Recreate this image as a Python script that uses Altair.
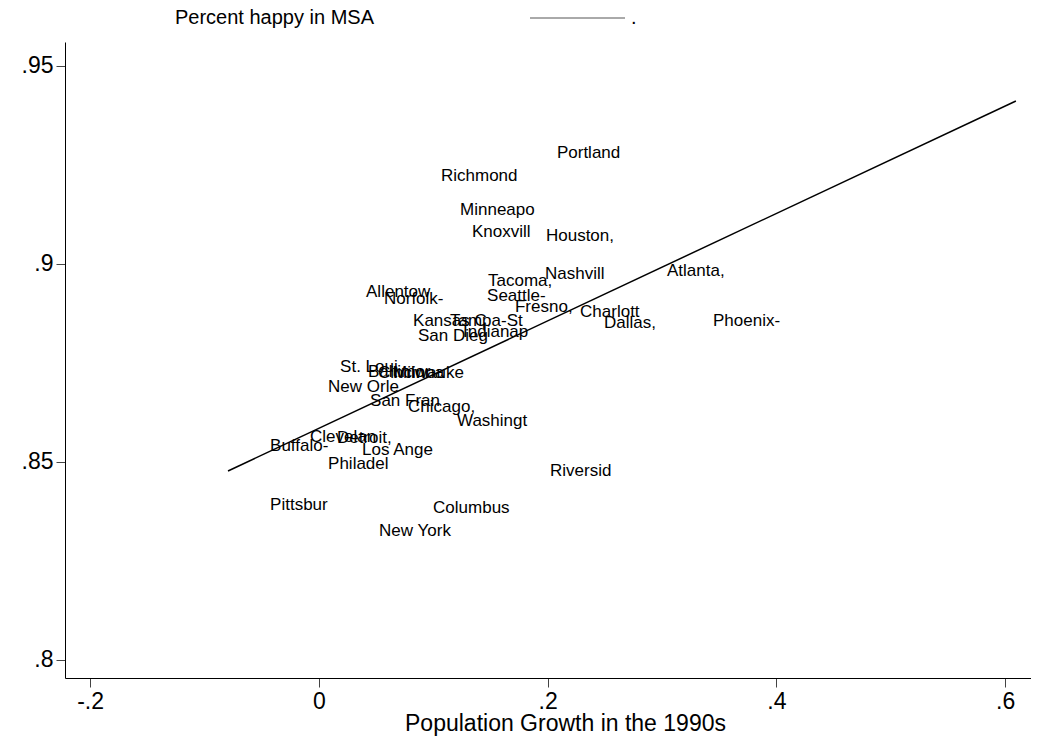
import altair as alt
import pandas as pd

# MSA labels (truncated to 8 chars as in the original) and their coordinates
cities = ["Portland", "Richmond", "Minneapo", "Knoxvill", "Houston,", "Nashvill",
          "Atlanta,", "Tacoma,", "Seattle-", "Allentow", "Norfolk-", "Fresno,",
          "Charlott", "Dallas,", "Phoenix-", "Kansas C", "Tampa-St", "San Dieg",
          "Indianap", "St. Loui", "Baltimor", "Cincinna", "Milwauke", "New Orle",
          "San Fran", "Chicago,", "Washingt", "Clevelan", "Detroit,", "Buffalo-",
          "Los Ange", "Philadel", "Riversid", "Pittsbur", "Columbus", "New York"]
growth = [0.2038, 0.1024, 0.1191, 0.1295, 0.1942, 0.1934,
          0.3000, 0.1435, 0.1427, 0.0369, 0.0526, 0.1671,
          0.2240, 0.2449, 0.3402, 0.0780, 0.1103, 0.0823,
          0.1217, 0.0142, 0.0386, 0.0474, 0.0605, 0.0037,
          0.0404, 0.0736, 0.1164, -0.0121, 0.0115, -0.0470,
          0.0334, 0.0037, 0.1977, -0.0470, 0.0955, 0.0483]
happy = [0.9280, 0.9222, 0.9136, 0.9081, 0.9071, 0.8975,
         0.8982, 0.8957, 0.8919, 0.8929, 0.8912, 0.8891,
         0.8879, 0.8851, 0.8856, 0.8856, 0.8856, 0.8818,
         0.8828, 0.8740, 0.8727, 0.8725, 0.8725, 0.8689,
         0.8654, 0.8639, 0.8604, 0.8563, 0.8561, 0.8540,
         0.8530, 0.8495, 0.8477, 0.8391, 0.8384, 0.8326]

# fitted line endpoints
fit_x = [-0.0794, 0.6094]
fit_y = [0.84773, 0.94116]

x_ticks = [-0.2, 0, 0.2, 0.4, 0.6]
y_ticks = [0.8, 0.85, 0.9, 0.95]
legend_labels = ["Percent happy in MSA", "."]
x_title = "Population Growth in the 1990s"

FONT = "Liberation Sans"

pts = pd.DataFrame({"city": cities, "growth": growth, "happy": happy})
fit = pd.DataFrame({"growth": fit_x, "happy": fit_y})
one = pd.DataFrame({"k": [0]})

label_expr = "replace(toString(datum.value), '0.', '.')"

xscale = alt.Scale(domain=[-0.2219, 0.6226], nice=False, zero=False)
yscale = alt.Scale(domain=[0.79545, 0.95606], nice=False, zero=False)

xenc = alt.X("growth:Q", scale=xscale,
             axis=alt.Axis(values=x_ticks, labelExpr=label_expr, title=x_title,
                           grid=False, tickSize=9, labelPadding=3, titlePadding=-1,
                           titleX=500, titleAlign="center"))
yenc = alt.Y("happy:Q", scale=yscale,
             axis=alt.Axis(values=y_ticks, labelExpr=label_expr, title=None,
                           grid=False, tickSize=9, labelPadding=3))

line = alt.Chart(fit).mark_line(color="black", strokeWidth=1.5).encode(x=xenc, y=yenc)

labels = alt.Chart(pts).mark_text(
    align="left", baseline="middle", dx=5, font=FONT, fontSize=17, color="black"
).encode(x=xenc, y=yenc, text="city:N")

leg_text1 = alt.Chart(one).mark_text(
    align="left", baseline="middle", font=FONT, fontSize=20, color="black"
).encode(x=alt.value(110), y=alt.value(-24), text=alt.value(legend_labels[0]))

leg_rule = alt.Chart(one).mark_rule(color="#555555", strokeWidth=1).encode(
    x=alt.value(465), x2=alt.value(560), y=alt.value(-24))

leg_text2 = alt.Chart(one).mark_text(
    align="left", baseline="middle", font=FONT, fontSize=20, color="black"
).encode(x=alt.value(566), y=alt.value(-24), text=alt.value(legend_labels[1]))

chart = alt.layer(line, labels, leg_text1, leg_rule, leg_text2).properties(
    width=966, height=636,
    autosize=alt.AutoSizeParams(type="none"),
    padding={"left": 57, "top": 34, "right": 0, "bottom": 60},
    background="white",
).configure_view(stroke=None).configure_axis(
    domainColor="black", domainWidth=1, tickColor="#444444", tickWidth=1,
    labelFont=FONT, labelFontSize=23, labelColor="black",
    titleFont=FONT, titleFontSize=23, titleFontWeight="normal", titleColor="black",
)

chart.save("out.html", embed_options={"renderer": "svg", "actions": False})
